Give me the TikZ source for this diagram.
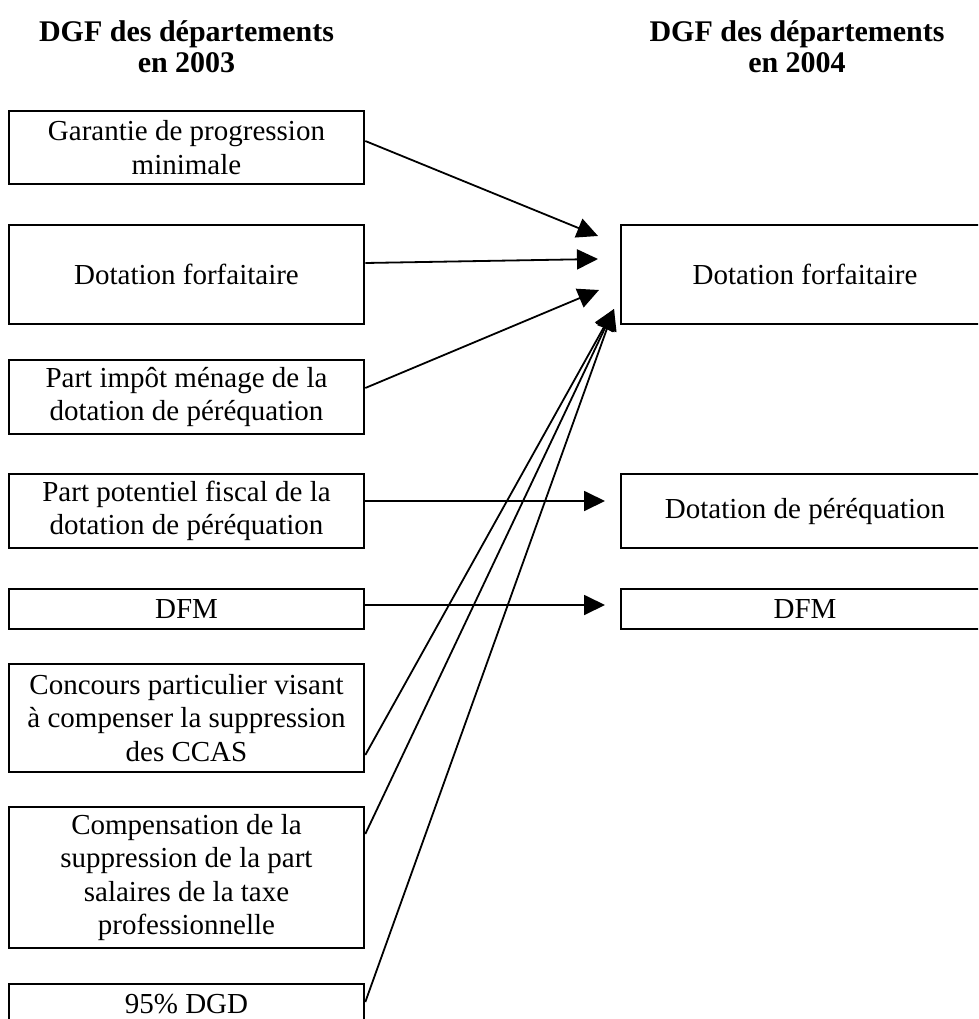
\documentclass[tikz,border=0pt]{standalone}
\usepackage{fontspec}
\setmainfont{Liberation Serif}
\usetikzlibrary{arrows.meta,calc}
\begin{document}
\begin{tikzpicture}[x=1pt,y=-1pt,
  box/.style={draw,line width=2.6pt,align=center,inner sep=0pt,font=\fontsize{29}{33.5}\selectfont},
  lbox/.style={box,minimum width=355pt},
  rbox/.style={box,minimum width=368pt},
  head/.style={align=center,font=\fontsize{30}{31}\selectfont\bfseries},
  conn/.style={line width=1.8pt,-{Triangle[length=21pt,width=20pt]}}]
\useasboundingbox (0,0) rectangle (978,1019);
\clip (0,0) rectangle (978,1019);
% headers
\node[head] (h1) at (186.5,47) {DGF des départements\\en 2003};
\node[head] (h2) at (797,47) {DGF des départements\\en 2004};
% left boxes
\node[lbox,minimum height=73pt]  (b1) at (186.5,147.5) {Garantie de progression\\minimale};
\node[lbox,minimum height=99pt]  (b2) at (186.5,274.5) {Dotation forfaitaire};
\node[lbox,minimum height=74pt]  (b3) at (186.5,397) {Part impôt ménage de la\\dotation de péréquation};
\node[lbox,minimum height=74pt]  (b4) at (186.5,511) {Part potentiel fiscal de la\\dotation de péréquation};
\node[lbox,minimum height=40pt]  (b5) at (186.5,609) {DFM};
\node[lbox,minimum height=108pt] (b6) at (186.5,718) {Concours particulier visant\\à compenser la suppression\\des CCAS};
\node[lbox,minimum height=40pt]  (b8) at (186.5,1004) {95\% DGD};
\node[lbox,minimum height=141pt] (b7) at (186.5,877.5) {Compensation de la\\suppression de la part\\salaires de la taxe\\professionnelle};
% right boxes
\node[rbox,minimum height=99pt] (r1) at (805,274.5) {Dotation forfaitaire};
\node[rbox,minimum height=74pt] (r2) at (805,511) {Dotation de péréquation};
\node[rbox,minimum height=40pt] (r3) at (805,609) {DFM};
% arrow targets
\coordinate (t1) at (598,236);
\coordinate (t2) at (598,259);
\coordinate (t3) at (599,290);
\coordinate (t4) at (605,501);
\coordinate (t5) at (605,605);
\coordinate (t6) at (614,309);
% connectors
\draw[conn] ([yshift=6.5pt]b1.east) -- (t1);
\draw[conn] ([yshift=11.5pt]b2.east) -- (t2);
\draw[conn] ([yshift=9pt]b3.east) -- (t3);
\draw[conn] ([yshift=10pt]b4.east) -- (t4);
\draw[conn] ([yshift=4pt]b5.east) -- (t5);
\draw[conn] ([yshift=-37pt]b6.east) -- (t6);
\draw[conn] ([yshift=43.5pt]b7.east) -- (t6);
\draw[conn] ([yshift=2pt]b8.east) -- (t6);
\end{tikzpicture}
\end{document}
